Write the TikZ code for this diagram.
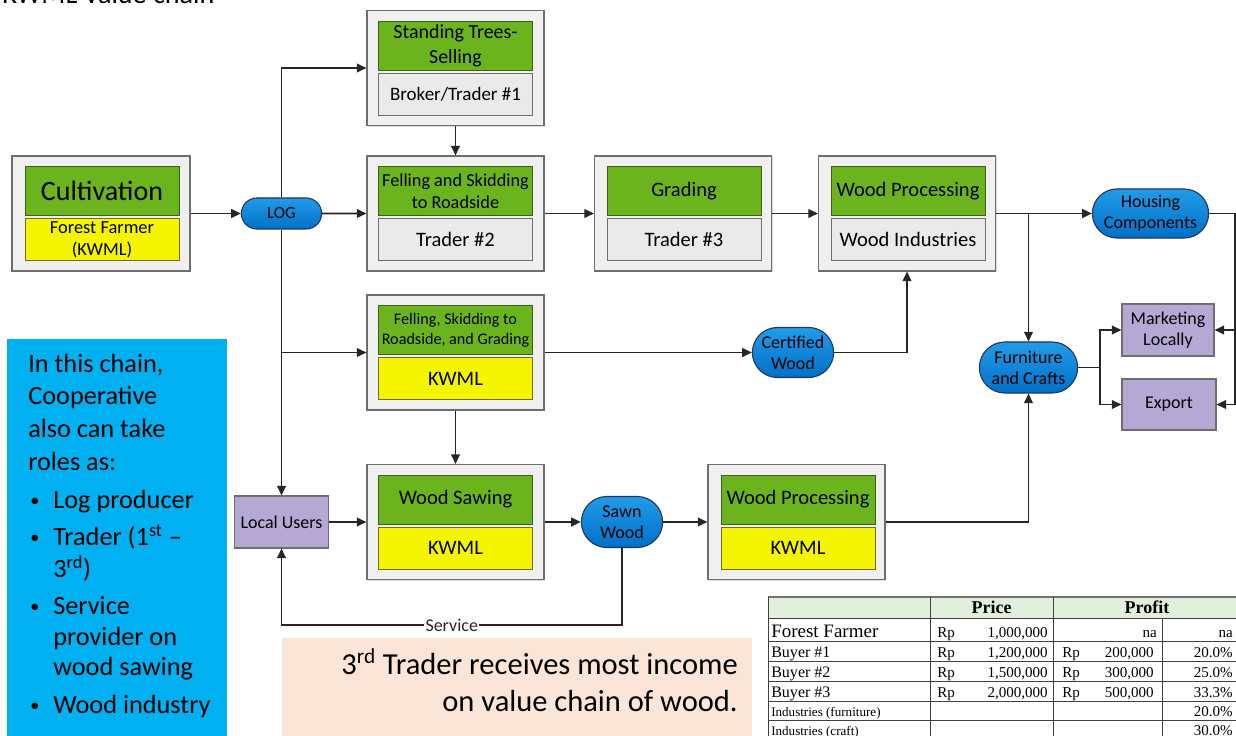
\documentclass[tikz,border=0pt]{standalone}
\usepackage{fontspec}
\setmainfont{Carlito}
\newfontfamily\tabfont{Liberation Serif}
\usetikzlibrary{arrows.meta, positioning, calc, shapes.misc, shadows}
\definecolor{boxgray}{RGB}{240,240,240}
\definecolor{boxline}{RGB}{110,110,110}
\definecolor{leafgreen}{RGB}{108,180,30}
\definecolor{leafline}{RGB}{60,95,25}
\definecolor{kwmlyellow}{RGB}{245,245,0}
\definecolor{kwmlline}{RGB}{110,110,40}
\definecolor{cellgray}{RGB}{234,234,234}
\definecolor{pilltop}{RGB}{35,155,232}
\definecolor{pillbot}{RGB}{0,112,200}
\definecolor{pillline}{RGB}{35,55,95}
\definecolor{lavender}{RGB}{181,168,212}
\definecolor{notecyan}{RGB}{0,176,240}
\definecolor{notepeach}{RGB}{251,229,214}
\definecolor{tabhead}{RGB}{226,239,218}
\definecolor{inkgray}{RGB}{38,38,38}
\tikzset{
  >=Stealth,
  flowarrow/.style={-{Triangle[length=2.4mm, width=2.2mm]}, line width=1.1pt, inkgray},
  tabrule/.style={line width=0.5pt, black!75}
}

\begin{document}
\begin{tikzpicture}[x=0.025cm, y=-0.025cm,
    stagebox/.style={draw=boxline, fill=boxgray, line width=0.8pt, minimum width=4.425cm, minimum height=2.875cm,
      drop shadow={shadow xshift=1pt, shadow yshift=-1pt, opacity=0.25}},
    taskbox/.style={draw=leafline, fill=leafgreen, minimum width=3.85cm, minimum height=1.225cm, inner sep=1pt,
      align=center, font=\fontsize{14.6}{17}\selectfont},
    actorbox/.style={draw=boxline, fill=cellgray, minimum width=3.85cm, minimum height=1.05cm, inner sep=1pt,
      align=center, font=\fontsize{14.6}{17}\selectfont},
    kwmlbox/.style={actorbox, draw=kwmlline, fill=kwmlyellow},
    product/.style={rounded rectangle, draw=pillline, line width=0.8pt, top color=pilltop, bottom color=pillbot,
      align=center, inner sep=1pt, font=\fontsize{12.8}{15}\selectfont},
    market/.style={draw=boxline, fill=lavender, line width=0.8pt, align=center, inner sep=1pt,
      font=\fontsize{12.8}{15}\selectfont},
    notetext/.style={anchor=base west, inner sep=0pt, font=\fontsize{18.7}{22}\selectfont},
    cellname/.style={anchor=base west, inner sep=0pt, font=\tabfont\fontsize{11.4}{13}\selectfont},
    cellnum/.style={anchor=base east, inner sep=0pt, font=\tabfont\fontsize{10.7}{12}\selectfont}]
    \useasboundingbox (0,0) rectangle (1236,736);
    \clip (0,0) rectangle (1236,736);
    % Title (cut by the top edge)
    \node[anchor=base west, inner sep=0pt, font=\fontsize{20}{24}\selectfont] (title) at (2,3.5) {KWML Value chain};
    % Cultivation
    \node (cultOut) [stagebox, minimum width=4.45cm] at (101,213.5) {};
    \node (cultTask) [taskbox, font=\fontsize{19.9}{22}\selectfont] at ($(cultOut.north)+(1,35.5)$) {Cultivation};
    \node (cultActor) [kwmlbox, font=\fontsize{13.1}{15.6}\selectfont] at ($(cultOut.north)+(1,84)$) {Forest Farmer\\(KWML)};
    % Standing trees
    \node (standOut) [stagebox] at (455.5,68) {};
    \node (standTask) [taskbox, font=\fontsize{14.2}{17.8}\selectfont] at ($(standOut.north)+(0,35.5)$) {Standing Trees-\\Selling};
    \node (standActor) [actorbox, font=\fontsize{13.5}{16}\selectfont] at ($(standOut.north)+(0,84)$) {Broker/Trader \#1};
    % Felling and skidding
    \node (fellOut) [stagebox] at (455.5,213.5) {};
    \node (fellTask) [taskbox, font=\fontsize{13}{15.6}\selectfont] at ($(fellOut.north)+(0,35.5)$) {Felling and Skidding\\to Roadside};
    \node (fellActor) [actorbox] at ($(fellOut.north)+(0,84)$) {Trader \#2};
    % Grading
    \node (gradeOut) [stagebox] at (683,213.5) {};
    \node (gradeTask) [taskbox] at ($(gradeOut.north)+(1,35.5)$) {Grading};
    \node (gradeActor) [actorbox] at ($(gradeOut.north)+(1,84)$) {Trader \#3};
    % Wood processing (industries)
    \node (procOut) [stagebox] at (907,213.5) {};
    \node (procTask) [taskbox] at ($(procOut.north)+(1,35.5)$) {Wood Processing};
    \node (procActor) [actorbox] at ($(procOut.north)+(1,84)$) {Wood Industries};
    % Felling, skidding, grading by KWML
    \node (fsgOut) [stagebox] at (455.5,352.5) {};
    \node (fsgTask) [taskbox, font=\fontsize{11.5}{14.2}\selectfont] at ($(fsgOut.north)+(0,35.5)$) {Felling, Skidding to\\Roadside, and Grading};
    \node (fsgActor) [kwmlbox] at ($(fsgOut.north)+(0,84)$) {KWML};
    % Wood sawing
    \node (sawOut) [stagebox] at (455.5,522) {};
    \node (sawTask) [taskbox] at ($(sawOut.north)+(0,35.5)$) {Wood Sawing};
    \node (sawActor) [kwmlbox] at ($(sawOut.north)+(0,84)$) {KWML};
    % Wood processing by KWML
    \node (proc2Out) [stagebox] at (796.5,522) {};
    \node (proc2Task) [taskbox] at ($(proc2Out.north)+(1.5,35.5)$) {Wood Processing};
    \node (proc2Actor) [kwmlbox] at ($(proc2Out.north)+(1.5,84)$) {KWML};
    % Products
    \node (logPill) [product, minimum width=2.075cm, minimum height=0.775cm, font=\fontsize{12.1}{14}\selectfont] at (281.5,213.5) {LOG};
    \node (certPill) [product, minimum width=2.1cm, minimum height=1.25cm] at (793,352.5) {Certified\\Wood};
    \node (sawnPill) [product, minimum width=2.1cm, minimum height=1.275cm] at (622,522) {Sawn\\Wood};
    \node (housePill) [product, minimum width=2.975cm, minimum height=1.225cm] at (1150.5,213.5) {Housing\\Components};
    \node (furnPill) [product, minimum width=2.525cm, minimum height=1.275cm] at (1028.5,367.5) {Furniture\\and Crafts};
    % Users and markets
    \node (localBox) [market, minimum width=2.35cm, minimum height=1.3cm] at (281.5,522) {Local Users};
    \node (mktBox) [market, minimum width=2.3cm, minimum height=1.3cm] at (1168,330) {Marketing\\Locally};
    \node (expBox) [market, minimum width=2.35cm, minimum height=1.275cm] at (1169,404.5) {Export};
    % Flows
    \draw[flowarrow] (cultOut) -- (logPill);
    \draw[flowarrow] (logPill) -- (fellOut);
    \draw[flowarrow] (logPill.north) |- (standOut.west);
    \draw[flowarrow] (logPill.south) -- (localBox.north);
    \draw[flowarrow] (logPill.south |- fsgOut.west) -- (fsgOut.west);
    \draw[flowarrow] (standOut) -- (fellOut);
    \draw[flowarrow] (fellOut) -- (gradeOut);
    \draw[flowarrow] (gradeOut) -- (procOut);
    \draw[flowarrow] (procOut) -- (housePill);
    \draw[flowarrow] (procOut.east -| furnPill.north) -- (furnPill.north);
    \coordinate (houseTurn) at (1235,213.5);
    \draw[flowarrow] (housePill.east) -- (houseTurn) |- (mktBox.east);
    \draw[flowarrow] (houseTurn |- mktBox.east) |- (expBox.east);
    \coordinate (furnTurn) at (1100,367.5);
    \draw[flowarrow] (furnPill.east) -- (furnTurn) |- (mktBox.west);
    \draw[flowarrow] (furnTurn) |- (expBox.west);
    \draw[flowarrow] (fsgOut) -- (certPill);
    \draw[flowarrow] (certPill.east) -| (procOut.south);
    \draw[flowarrow] (fsgOut) -- (sawOut);
    \draw[flowarrow] (localBox) -- (sawOut);
    \draw[flowarrow] (sawOut) -- (sawnPill);
    \draw[flowarrow] (sawnPill) -- (proc2Out);
    \draw[flowarrow] (proc2Out.east) -| (furnPill.south);
    \coordinate (svcTurn) at (622,625);
    \draw[flowarrow] (sawnPill.south) -- (svcTurn) -| (localBox.south)
      node[pos=0.25, fill=white, inner sep=1pt, font=\fontsize{12.8}{15}\selectfont] (svcLabel) {Service};
    % Cooperative roles note
    \node (noteBox) [fill=notecyan, anchor=north west, minimum width=5.5cm, minimum height=10.1cm, inner sep=0pt] at (7,339) {};
    \node[notetext] (noteA) at (28,372) {In this chain,};
    \node[notetext] (noteB) at (28,404) {Cooperative};
    \node[notetext] (noteC) at (28,437) {also can take};
    \node[notetext] (noteD) at (28,470) {roles as:};
    \foreach \yy in {508,545,614,713}
      \node[notetext, font=\fontsize{13}{15}\selectfont] (dot\yy) at (30,\yy-2) {•};
    \foreach \yy/\txt in {508/Log producer, 545/{Trader (1\textsuperscript{st} –}, 577/{3\textsuperscript{rd})},
                         614/Service, 645/provider on, 675/wood sawing, 713/Wood industry}
      \node[notetext] (item\yy) at (53,\yy) {\txt};
    % Income note
    \node (incomeBox) [fill=notepeach, anchor=north west, minimum width=11.75cm, minimum height=2.6cm, inner sep=0pt] at (282,638) {};
    \node[anchor=base east, inner sep=0pt, font=\fontsize{21.7}{26}\selectfont] (incomeA) at (738,674) {3\textsuperscript{rd} Trader receives most income};
    \node[anchor=base east, inner sep=0pt, font=\fontsize{21.7}{26}\selectfont] (incomeB) at (738,711) {on value chain of wood.};
    % Price and profit table
    \fill[tabhead] (768,597) rectangle (1250,618);
    \draw[line width=1pt, black!55] (768,597) -- (1250,597);
    \foreach \ry in {618,641,661,681,701,720}
      \draw[tabrule] (768,\ry) -- (1250,\ry);
    \foreach \cx in {768,930,1053}
      \draw[tabrule] (\cx,597) -- (\cx,740);
    \draw[tabrule] (1162,618) -- (1162,740);
    \node[font=\tabfont\bfseries\fontsize{12.8}{14}\selectfont] (hPrice) at (991.5,607.5) {Price};
    \node[font=\tabfont\bfseries\fontsize{12.8}{14}\selectfont] (hProfit) at (1147,607.5) {Profit};
    \node[cellname, font=\tabfont\fontsize{13.5}{15}\selectfont] (ffName) at (771,637) {Forest Farmer};
    \node[cellname, font=\tabfont\fontsize{10.7}{12}\selectfont] (ffRp) at (937,637) {Rp};
    \node[cellnum] (ffPrice) at (1048,637) {1,000,000};
    \node[cellnum] (ffGain) at (1157,637) {na};
    \node[cellnum] (ffPct) at (1233,637) {na};
    \foreach \nm/\base/\price/\gain/\pct [count=\k] in {{Buyer \#1}/657/{1,200,000}/{200,000}/{20.0\%},
                                                      {Buyer \#2}/677/{1,500,000}/{300,000}/{25.0\%},
                                                      {Buyer \#3}/697/{2,000,000}/{500,000}/{33.3\%}} {
      \node[cellname] (bName\k) at (771,\base) {\nm};
      \node[cellname, font=\tabfont\fontsize{10.7}{12}\selectfont] (bRp\k) at (937,\base) {Rp};
      \node[cellnum] (bPrice\k) at (1048,\base) {\price};
      \node[cellname, font=\tabfont\fontsize{10.7}{12}\selectfont] (gRp\k) at (1062,\base) {Rp};
      \node[cellnum] (bGain\k) at (1154,\base) {\gain};
      \node[cellnum] (bPct\k) at (1233,\base) {\pct};
    }
    \node[cellname, font=\tabfont\fontsize{9.3}{11}\selectfont] (indA) at (771,716) {Industries (furniture)};
    \node[cellnum] (indAPct) at (1233,716) {20.0\%};
    \node[cellname, font=\tabfont\fontsize{9.3}{11}\selectfont] (indB) at (771,735) {Industries (craft)};
    \node[cellnum] (indBPct) at (1233,735) {30.0\%};
\end{tikzpicture}
\end{document}
